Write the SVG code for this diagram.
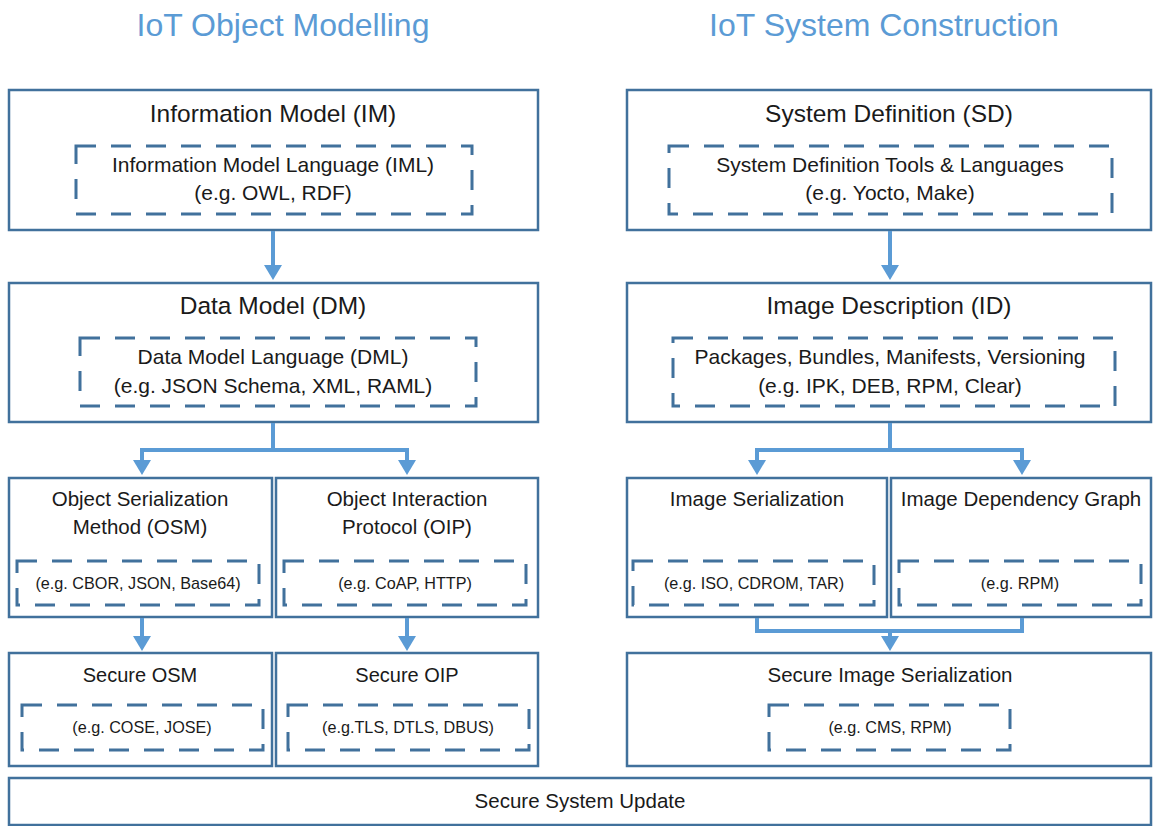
<svg xmlns="http://www.w3.org/2000/svg" width="1154" height="826" viewBox="0 0 1154 826">
<style>
  text { font-family: "Liberation Sans", Arial, sans-serif; fill: #1a1a1a; text-anchor: middle; }
  .head { font-size: 32px; fill: #5B9BD5; }
  .t1 { font-size: 24.5px; }
  .t2 { font-size: 20.5px; }
  .t3 { font-size: 21px; }
  .t4 { font-size: 20px; }
  .sm { font-size: 16.2px; }
  .box { fill: #ffffff; stroke: #41719C; stroke-width: 2.5; }
  .dash { fill: none; stroke: #41719C; stroke-width: 3; stroke-dasharray: 20 15; }
  .conn { fill: none; stroke: #5B9BD5; stroke-width: 4; stroke-linejoin: miter; }
</style>
<defs>
  <marker id="arr" markerUnits="userSpaceOnUse" markerWidth="16" markerHeight="18" refX="1" refY="9" orient="auto" viewBox="0 0 16 18">
    <path d="M0,0 L15,9 L0,18 z" fill="#5B9BD5"/>
  </marker>
</defs>
<rect width="1154" height="826" fill="#ffffff"/>

<text class="head" x="283" y="36">IoT Object Modelling</text>
<text class="head" x="884" y="36">IoT System Construction</text>

<g id="im">
  <rect class="box" x="9" y="90" width="529" height="140"/>
  <text class="t1" x="273" y="122">Information Model (IM)</text>
  <rect class="dash" x="76" y="146" width="396" height="68"/>
  <text class="t3" x="273" y="172">Information Model Language (IML)</text>
  <text class="t3" x="273" y="200">(e.g. OWL, RDF)</text>
</g>
<g id="sd">
  <rect class="box" x="627" y="90" width="524" height="140"/>
  <text class="t1" x="889" y="122">System Definition (SD)</text>
  <rect class="dash" x="669" y="146" width="443" height="68"/>
  <text class="t3" x="890" y="172">System Definition Tools &amp; Languages</text>
  <text class="t3" x="890" y="200">(e.g. Yocto, Make)</text>
</g>
<g id="dm">
  <rect class="box" x="9" y="283" width="529" height="139"/>
  <text class="t1" x="273" y="314">Data Model (DM)</text>
  <rect class="dash" x="80" y="338" width="396" height="68"/>
  <text class="t3" x="273" y="364">Data Model Language (DML)</text>
  <text class="t3" x="273" y="393">(e.g. JSON Schema, XML, RAML)</text>
</g>
<g id="id">
  <rect class="box" x="627" y="283" width="524" height="139"/>
  <text class="t1" x="889" y="314">Image Description (ID)</text>
  <rect class="dash" x="673" y="338" width="442" height="68"/>
  <text class="t3" x="890" y="364">Packages, Bundles, Manifests, Versioning</text>
  <text class="t3" x="890" y="393">(e.g. IPK, DEB, RPM, Clear)</text>
</g>
<g id="osm">
  <rect class="box" x="9" y="478" width="263" height="139"/>
  <text class="t2" x="140" y="506">Object Serialization</text>
  <text class="t2" x="140" y="534">Method (OSM)</text>
  <rect class="dash" x="17" y="561" width="242" height="44"/>
  <text class="sm" x="138" y="589">(e.g. CBOR, JSON, Base64)</text>
</g>
<g id="oip">
  <rect class="box" x="276" y="478" width="262" height="139"/>
  <text class="t2" x="407" y="506">Object Interaction</text>
  <text class="t2" x="407" y="534">Protocol (OIP)</text>
  <rect class="dash" x="284" y="561" width="242" height="44"/>
  <text class="sm" x="405" y="589">(e.g. CoAP, HTTP)</text>
</g>
<g id="is">
  <rect class="box" x="627" y="478" width="260" height="139"/>
  <text class="t2" x="757" y="506">Image Serialization</text>
  <rect class="dash" x="633" y="561" width="241" height="44"/>
  <text class="sm" x="754" y="589">(e.g. ISO, CDROM, TAR)</text>
</g>
<g id="idg">
  <rect class="box" x="891" y="478" width="260" height="139"/>
  <text class="t2" x="1021" y="506">Image Dependency Graph</text>
  <rect class="dash" x="899" y="561" width="242" height="44"/>
  <text class="sm" x="1020" y="589">(e.g. RPM)</text>
</g>
<g id="sosm">
  <rect class="box" x="9" y="653" width="263" height="113"/>
  <text class="t4" x="140" y="682">Secure OSM</text>
  <rect class="dash" x="22" y="705" width="241" height="45"/>
  <text class="sm" x="142" y="733">(e.g. COSE, JOSE)</text>
</g>
<g id="soip">
  <rect class="box" x="276" y="653" width="262" height="113"/>
  <text class="t4" x="407" y="682">Secure OIP</text>
  <rect class="dash" x="288" y="705" width="241" height="45"/>
  <text class="sm" x="408" y="733">(e.g.TLS, DTLS, DBUS)</text>
</g>
<g id="sis">
  <rect class="box" x="627" y="653" width="524" height="113"/>
  <text class="t2" x="890" y="682">Secure Image Serialization</text>
  <rect class="dash" x="769" y="705" width="241" height="45"/>
  <text class="sm" x="890" y="733">(e.g. CMS, RPM)</text>
</g>
<g id="ssu">
  <rect class="box" x="9" y="778" width="1142" height="47"/>
  <text class="t2" x="580" y="808">Secure System Update</text>
</g>

<g id="connectors">
  <path class="conn" d="M273,231 V266" marker-end="url(#arr)"/>
  <path class="conn" d="M890,231 V266" marker-end="url(#arr)"/>
  <path class="conn" d="M273,423 V450 H142 V461" marker-end="url(#arr)"/>
  <path class="conn" d="M273,450 H407 V461" marker-end="url(#arr)"/>
  <path class="conn" d="M890,423 V450 H757 V461" marker-end="url(#arr)"/>
  <path class="conn" d="M890,450 H1022 V461" marker-end="url(#arr)"/>
  <path class="conn" d="M142,618 V637" marker-end="url(#arr)"/>
  <path class="conn" d="M407,618 V637" marker-end="url(#arr)"/>
  <path class="conn" d="M757,618 V631 H1022 V618"/>
  <path class="conn" d="M890,631 V637" marker-end="url(#arr)"/>
</g>
</svg>
